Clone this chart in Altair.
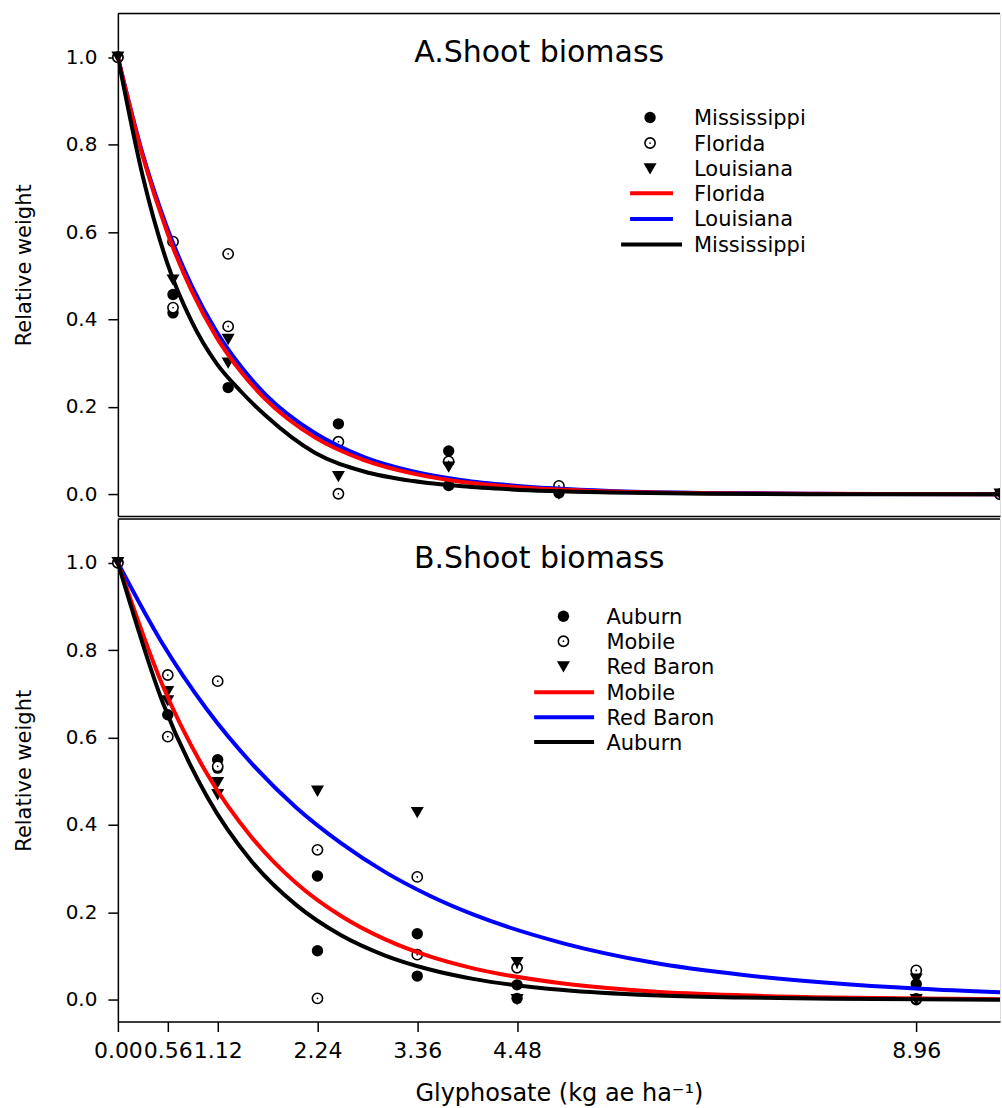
import altair as alt
import pandas as pd

# ---------------- Panel A data ----------------
A_title = "A.Shoot biomass"
A_point_sites = ["Mississippi", "Florida", "Louisiana"]
A_line_sites = ["Florida", "Louisiana", "Mississippi"]

A_miss_x = [0, 0.56, 0.56, 1.12, 2.24, 3.36, 3.36, 4.48, 8.96]
A_miss_y = [1.0, 0.457, 0.415, 0.244, 0.161, 0.099, 0.02, 0.003, 0.0]
A_flor_x = [0, 0.56, 0.56, 1.12, 1.12, 2.24, 2.24, 3.36, 4.48, 8.96]
A_flor_y = [1.0, 0.578, 0.427, 0.55, 0.384, 0.12, 0.001, 0.075, 0.019, 0.0]
A_lou_x = [0, 0.56, 1.12, 1.12, 2.24, 3.36, 4.48, 8.96]
A_lou_y = [1.0, 0.49, 0.354, 0.30, 0.04, 0.062, 0.0, 0.0]

A_curve_x = [0, 0.25, 0.5, 0.75, 1.0, 1.25, 1.5, 2.0, 2.5, 3.0, 3.5, 4.0, 5.0, 6.0, 7.0, 8.96]
A_curve_florida = [1.0, 0.775, 0.60, 0.465, 0.36, 0.28, 0.217, 0.13, 0.078, 0.047, 0.028, 0.017, 0.006, 0.002, 0.001, 0.0]
A_curve_louisiana = [1.0, 0.78, 0.61, 0.477, 0.373, 0.292, 0.228, 0.14, 0.085, 0.052, 0.032, 0.02, 0.0075, 0.003, 0.001, 0.0]
A_curve_mississippi = [1.0, 0.73, 0.53, 0.395, 0.30, 0.235, 0.18, 0.095, 0.052, 0.03, 0.018, 0.011, 0.004, 0.001, 0.0, 0.0]

# ---------------- Panel B data ----------------
B_title = "B.Shoot biomass"
B_point_sites = ["Auburn", "Mobile", "Red Baron"]
B_line_sites = ["Mobile", "Red Baron", "Auburn"]

B_aub_x = [0, 0.56, 1.12, 1.12, 2.24, 2.24, 3.36, 3.36, 4.48, 4.48, 8.96, 8.96]
B_aub_y = [1.0, 0.652, 0.549, 0.53, 0.283, 0.112, 0.151, 0.054, 0.034, 0.003, 0.036, 0.0]
B_mob_x = [0, 0.56, 0.56, 1.12, 1.12, 2.24, 2.24, 3.36, 3.36, 4.48, 8.96, 8.96]
B_mob_y = [1.0, 0.743, 0.602, 0.729, 0.534, 0.343, 0.003, 0.281, 0.103, 0.073, 0.067, 0.002]
B_red_x = [0, 0.56, 0.56, 1.12, 1.12, 2.24, 3.36, 4.48, 4.48, 8.96, 8.96]
B_red_y = [1.0, 0.705, 0.684, 0.497, 0.469, 0.477, 0.428, 0.085, 0.0, 0.047, 0.0]

B_curve_x = [0, 0.5, 1.0, 1.5, 2.0, 2.5, 3.0, 3.5, 4.0, 5.0, 6.0, 7.0, 8.0, 9.0, 9.9]
B_curve_mobile = [1.0, 0.72, 0.517, 0.372, 0.267, 0.192, 0.138, 0.099, 0.071, 0.037, 0.019, 0.01, 0.005, 0.003, 0.001]
B_curve_redbaron = [1.0, 0.815, 0.664, 0.541, 0.44, 0.359, 0.292, 0.238, 0.194, 0.129, 0.085, 0.057, 0.038, 0.025, 0.017]
B_curve_auburn = [1.0, 0.682, 0.465, 0.317, 0.217, 0.148, 0.101, 0.069, 0.047, 0.022, 0.01, 0.005, 0.002, 0.001, 0.0]

x_ticks = [0, 0.56, 1.12, 2.24, 3.36, 4.48, 8.96]
y_ticks = [0.0, 0.2, 0.4, 0.6, 0.8, 1.0]
y_title = "Relative weight"
x_title = "Glyphosate (kg ae ha\u207b\u00b9)"

# ---------------- layout constants ----------------
W = 883
H = 503
FONT = "DejaVu Sans"
LINE_COLORS = ["#ff0000", "#0000ff", "#000000"]


def enc_xy(xdom, show_x_axis):
    if show_x_axis:
        xaxis = alt.Axis(values=x_ticks, format=".2f", labelOverlap=False, labelFlush=False,
                         tickSize=10, tickWidth=1.5, tickColor="black", domainColor="black",
                         domainWidth=1.5, labelFont=FONT, labelFontSize=22, labelColor="black",
                         labelPadding=9, grid=False, title=x_title, titleFont=FONT,
                         titleFontSize=24, titleFontWeight="normal", titleColor="black",
                         titlePadding=20)
    else:
        xaxis = alt.Axis(labels=False, ticks=False, grid=False, title=None,
                         domainColor="black", domainWidth=1.5)
    yaxis = alt.Axis(values=y_ticks, format=".1f", tickSize=10, tickWidth=1.5, tickColor="black",
                     domainColor="black", domainWidth=1.5, labelFont=FONT, labelFontSize=20,
                     labelColor="black", labelPadding=11, grid=False, title=y_title,
                     titleFont=FONT, titleFontSize=21, titleFontWeight="normal",
                     titleColor="black", titlePadding=31)
    x = alt.X("x:Q", scale=alt.Scale(domain=xdom, nice=False, zero=False), axis=xaxis)
    y = alt.Y("y:Q", scale=alt.Scale(domain=[-0.05, 1.1], nice=False, zero=False), axis=yaxis)
    return x, y


def mark_style(kind):
    if kind == "filled":
        return dict(shape="circle", filled=True, color="black", size=130, opacity=1)
    if kind == "open":
        return dict(shape="circle", filled=True, fill="white", stroke="black", strokeWidth=1.6,
                    size=105, opacity=1)
    return dict(shape="triangle-down", filled=True, color="black", size=170, opacity=1)


def point_layers(xs, ys, kind, xdom, show_x_axis, clip_right=False):
    df = pd.DataFrame({"x": xs, "y": ys})
    x, y = enc_xy(xdom, show_x_axis)
    mark = mark_style(kind)
    layers = []
    if clip_right:
        groups = [("datum.x < 8", False), ("datum.x >= 8", True)]
    else:
        groups = [(None, False)]
    for flt, clip in groups:
        c = alt.Chart(df).mark_point(clip=clip, **mark).encode(x=x, y=y)
        if flt:
            c = c.transform_filter(flt)
        layers.append(c)
        if kind == "open":
            d = alt.Chart(df).mark_point(shape="circle", filled=True, color="black", size=3,
                                         opacity=1, clip=clip).encode(x=x, y=y)
            if flt:
                d = d.transform_filter(flt)
            layers.append(d)
    return layers


def curve_layer(xs, ys, color, xdom, show_x_axis):
    df = pd.DataFrame({"x": xs, "y": ys})
    x, y = enc_xy(xdom, show_x_axis)
    return alt.Chart(df).mark_line(color=color, strokeWidth=4, interpolate="monotone",
                                   clip=True).encode(x=x, y=y)


def one_row(label):
    return alt.Data(values=[{"label": label}])


def legend_layers(point_labels, line_labels, sym_x, line_x0, line_x1, black_x0, black_x1,
                  text_x, rows, title, title_x, title_y):
    layers = []
    kinds = ["filled", "open", "tri"]
    for i, lab in enumerate(point_labels):
        yy = rows[i]
        k = kinds[i]
        layers.append(alt.Chart(one_row(lab)).mark_point(**mark_style(k)).encode(
            x=alt.value(sym_x), y=alt.value(yy)))
        if k == "open":
            layers.append(alt.Chart(one_row(lab)).mark_point(
                shape="circle", filled=True, color="black", size=3, opacity=1).encode(
                x=alt.value(sym_x), y=alt.value(yy)))
        layers.append(alt.Chart(one_row(lab)).mark_text(
            align="left", baseline="alphabetic", font=FONT, fontSize=21, color="black").encode(
            x=alt.value(text_x), y=alt.value(yy + 7.5), text="label:N"))
    for j, lab in enumerate(line_labels):
        yy = rows[3 + j]
        col = LINE_COLORS[j]
        x0, x1 = (black_x0, black_x1) if j == 2 else (line_x0, line_x1)
        layers.append(alt.Chart(one_row(lab)).mark_rule(color=col, strokeWidth=4).encode(
            x=alt.value(x0), x2=alt.value(x1), y=alt.value(yy)))
        layers.append(alt.Chart(one_row(lab)).mark_text(
            align="left", baseline="alphabetic", font=FONT, fontSize=21, color="black").encode(
            x=alt.value(text_x), y=alt.value(yy + 7.5), text="label:N"))
    layers.append(alt.Chart(one_row(title)).mark_text(
        align="center", baseline="alphabetic", font=FONT, fontSize=30, color="black").encode(
        x=alt.value(title_x), y=alt.value(title_y), text="label:N"))
    # top frame line
    layers.append(alt.Chart(one_row("frame")).mark_rule(color="black", strokeWidth=1.5).encode(
        x=alt.value(0), x2=alt.value(W), y=alt.value(0)))
    return layers


# ---------------- Panel A ----------------
A_dom = [0, 8.96]
panelA_layers = []
panelA_layers += point_layers(A_miss_x, A_miss_y, "filled", A_dom, False, clip_right=True)
panelA_layers += point_layers(A_flor_x, A_flor_y, "open", A_dom, False, clip_right=True)
panelA_layers += point_layers(A_lou_x, A_lou_y, "tri", A_dom, False, clip_right=True)
panelA_layers.append(curve_layer(A_curve_x, A_curve_louisiana, "#0000ff", A_dom, False))
panelA_layers.append(curve_layer(A_curve_x, A_curve_florida, "#ff0000", A_dom, False))
panelA_layers.append(curve_layer(A_curve_x, A_curve_mississippi, "#000000", A_dom, False))
panelA_layers += legend_layers(A_point_sites, A_line_sites, 532.7, 512.7, 555.7, 503.7, 564.7,
                               576.7, [104, 129.6, 155.6, 180, 205.6, 231.3],
                               A_title, 421.7, 49)
panelA = alt.layer(*panelA_layers).properties(width=W, height=H)

# ---------------- Panel B ----------------
B_dom = [0, 9.9]
panelB_layers = []
panelB_layers += point_layers(B_aub_x, B_aub_y, "filled", B_dom, True)
panelB_layers += point_layers(B_mob_x, B_mob_y, "open", B_dom, True)
panelB_layers += point_layers(B_red_x, B_red_y, "tri", B_dom, True)
panelB_layers.append(curve_layer(B_curve_x, B_curve_redbaron, "#0000ff", B_dom, True))
panelB_layers.append(curve_layer(B_curve_x, B_curve_mobile, "#ff0000", B_dom, True))
panelB_layers.append(curve_layer(B_curve_x, B_curve_auburn, "#000000", B_dom, True))
panelB_layers += legend_layers(B_point_sites, B_line_sites, 446, 416.7, 476.7, 416.7, 476.7,
                               489, [97.3, 122.3, 148, 173.3, 198.3, 223.3],
                               B_title, 421.7, 49)
panelB = alt.layer(*panelB_layers).properties(width=W, height=H)

chart = alt.vconcat(panelA, panelB, spacing=0).resolve_scale(
    x="independent", y="independent").properties(
    padding={"left": 12, "top": 11, "right": 0, "bottom": 0}
).configure_view(stroke=None).configure(background="white")

chart.save("out.html", embed_options={"renderer": "svg", "actions": False})
